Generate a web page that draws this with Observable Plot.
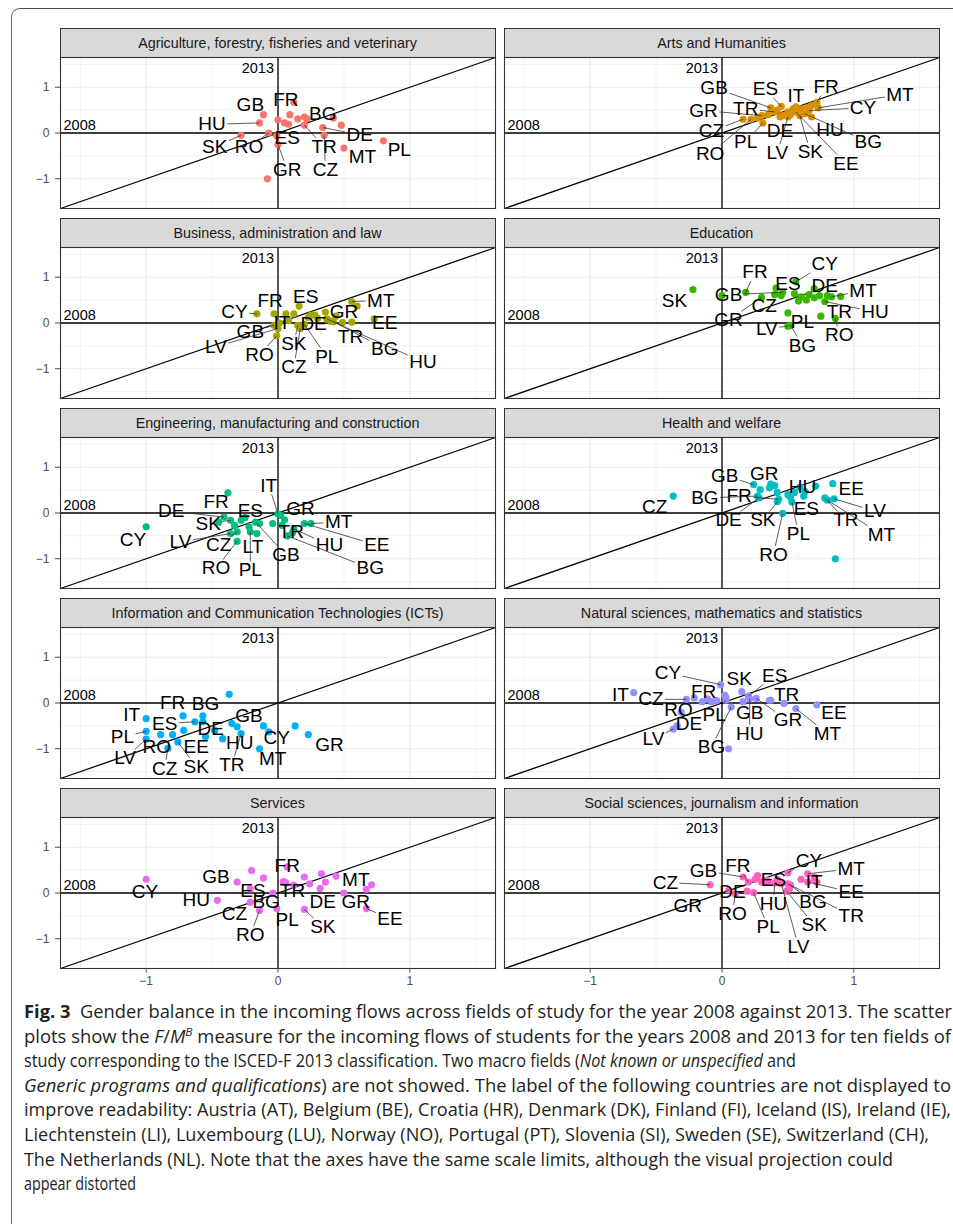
<!DOCTYPE html>
<html>
<head>
<meta charset="utf-8">
<script src="https://cdn.jsdelivr.net/npm/d3@7"></script>
<script src="https://cdn.jsdelivr.net/npm/@observablehq/plot@0.6"></script>
<style>
  html, body { margin: 0; padding: 0; background: #fff; }
  body { width: 953px; height: 1224px; overflow: hidden; position: relative; font-family: "Liberation Sans", Arial, sans-serif; }
  #frame { position: absolute; left: 11px; top: 8px; width: 1000px; height: 1300px; border-top: 1.3px solid #4a4a4a; border-left: 1.3px solid #6a6a6a; border-top-left-radius: 9px; box-sizing: border-box; }
  .strip { position: absolute; box-sizing: border-box; border: 1px solid #333; background: #d9d9d9; color: #1a1a1a; font-family: "Liberation Sans", Arial, sans-serif; font-size: 14.3px; display: flex; align-items: center; justify-content: center; white-space: nowrap; }
  .panel { position: absolute; }
  .panel svg { overflow: visible; }
  #caption { position: absolute; left: 24px; top: 999px; font-family: "Open Sans", "Liberation Sans", sans-serif; font-size: 17.5px; line-height: 24.6px; color: #231f20; }
  #caption .ln { white-space: nowrap; height: 24.6px; }
  #caption .ln span.w { display: inline-block; transform-origin: 0 50%; }
</style>
</head>
<body>
<div id="frame"></div>
<div id="root"></div>
<div id="caption">
  <div class="ln"><span class="w"><b>Fig. 3</b>&nbsp; Gender balance in the incoming flows across fields of study for the year 2008 against 2013. The scatter</span></div>
  <div class="ln"><span class="w">plots show the <i>F</i>/<i>M</i><sup style="font-size:0.65em;line-height:0"><i>B</i></sup> measure for the incoming flows of students for the years 2008 and 2013 for ten fields of</span></div>
  <div class="ln"><span class="w">study corresponding to the ISCED-F 2013 classification. Two macro fields (<i>Not known or unspecified</i> and</span></div>
  <div class="ln"><span class="w"><i>Generic programs and qualifications</i>) are not showed. The label of the following countries are not displayed to</span></div>
  <div class="ln"><span class="w">improve readability: Austria (AT), Belgium (BE), Croatia (HR), Denmark (DK), Finland (FI), Iceland (IS), Ireland (IE),</span></div>
  <div class="ln"><span class="w">Liechtenstein (LI), Luxembourg (LU), Norway (NO), Portugal (PT), Slovenia (SI), Sweden (SE), Switzerland (CH),</span></div>
  <div class="ln"><span class="w">The Netherlands (NL). Note that the axes have the same scale limits, although the visual projection could</span></div>
  <div class="ln"><span class="w">appear distorted</span></div>
</div>
<script>
// ---------------- DATA ----------------
const fields = [
  "Agriculture, forestry, fisheries and veterinary",
  "Arts and Humanities",
  "Business, administration and law",
  "Education",
  "Engineering, manufacturing and construction",
  "Health and welfare",
  "Information and Communication Technologies (ICTs)",
  "Natural sciences, mathematics and statistics",
  "Services",
  "Social sciences, journalism and information"
];
const fieldColors = ["#F8766D", "#D89000", "#A3A500", "#39B600", "#00BF7D", "#00BFC4", "#00B0F6", "#9590FF", "#E76BF3", "#FF62BC"];
const axisLimits = [-1.65, 1.65];
const majorTicks = [-1, 0, 1];
const minorTicks = [-1.5, -0.5, 0.5, 1.5];
const yearLabels = ["2008", "2013"];

// [country, F/M^B 2008, F/M^B 2013]
const agriculture = [["FR",0.12,0.67],["GB",-0.11,0.40],["HU",-0.14,0.22],["BG",0.42,0.33],["DE",0.34,0.12],["TR",0.20,0.17],["CZ",0.35,-0.05],["MT",0.50,-0.33],["PL",0.80,-0.17],["SK",-0.28,-0.05],["RO",-0.07,0.0],["GR",0.0,-0.25],["ES",-0.01,-0.06],
  ["AT",0.0,0.29],["BE",0.09,0.40],["HR",0.05,0.22],["DK",0.08,0.19],["FI",0.15,0.31],["IE",0.20,0.35],["NL",0.22,0.31],["SE",0.48,0.17],["NO",-0.08,-1.0]];
const arts = [["GB",0.37,0.55],["ES",0.45,0.58],["IT",0.56,0.57],["FR",0.72,0.67],["MT",0.73,0.55],["CY",0.66,0.49],["GR",0.30,0.38],["TR",0.40,0.46],["CZ",0.16,0.30],["RO",0.22,0.30],["PL",0.31,0.22],["DE",0.44,0.35],["LV",0.50,0.35],["SK",0.59,0.38],["HU",0.68,0.35],["BG",0.63,0.42],["EE",0.56,0.46],
  ["AT",0.46,0.38],["BE",0.50,0.46],["HR",0.54,0.53],["DK",0.60,0.53],["FI",0.35,0.40],["IE",0.42,0.50],["LU",0.65,0.56],["NL",0.52,0.40],["PT",0.68,0.60],["SI",0.27,0.33]];
const business = [["CY",-0.16,0.20],["FR",-0.03,0.20],["ES",0.16,0.37],["MT",0.56,0.47],["GR",0.36,0.24],["EE",0.73,0.09],["TR",0.49,0.01],["BG",0.42,0.03],["HU",0.37,0.09],["IT",0.01,0.0],["DE",0.23,0.12],["GB",-0.03,-0.05],["LV",0.0,-0.12],["RO",-0.01,-0.28],["SK",0.15,-0.05],["CZ",0.17,-0.12],["PL",0.20,-0.03],
  ["AT",0.06,0.20],["BE",0.25,0.17],["HR",0.28,0.17],["DK",0.40,0.04],["FI",0.60,0.37],["IE",0.56,0.02],["LU",0.12,0.20],["NL",0.30,0.10],["SE",0.44,0.15],["NO",0.08,0.05]];
const education = [["SK",-0.22,0.73],["FR",0.18,0.67],["GB",0.46,0.67],["CY",0.56,0.90],["ES",0.41,0.76],["DE",0.70,0.75],["MT",0.83,0.57],["HU",0.78,0.47],["TR",0.75,0.15],["RO",0.86,0.10],["PL",0.50,0.22],["LV",0.50,-0.07],["BG",0.52,-0.05],["CZ",0.45,0.60],["GR",0.30,0.56],
  ["IS",0.0,0.60],["AT",0.40,0.62],["BE",0.60,0.57],["HR",0.64,0.50],["DK",0.70,0.55],["FI",0.74,0.60],["IE",0.66,0.62],["LU",0.55,0.64],["NL",0.80,0.60],["PT",0.90,0.58],["SE",0.58,0.48]];
const engineering = [["CY",-1.0,-0.30],["FR",-0.38,0.44],["DE",-0.41,-0.09],["IT",0.0,-0.02],["ES",-0.28,-0.16],["GR",0.02,-0.05],["SK",-0.36,-0.16],["MT",0.25,-0.23],["EE",0.20,-0.23],["HU",0.12,-0.35],["BG",0.07,-0.50],["TR",0.11,-0.43],["GB",-0.17,-0.20],["LT",-0.16,-0.45],["PL",-0.21,-0.41],["CZ",-0.31,-0.41],["RO",-0.31,-0.62],["LV",-0.36,-0.45],
  ["AT",-0.33,-0.27],["BE",-0.14,-0.23],["HR",-0.04,-0.23],["DK",0.03,-0.27],["FI",-0.22,-0.30],["IE",-0.25,-0.10],["NL",-0.45,-0.20],["SE",0.05,-0.15]];
const health = [["CZ",-0.37,0.37],["GB",0.24,0.62],["GR",0.37,0.63],["HU",0.71,0.59],["EE",0.84,0.64],["BG",0.27,0.37],["FR",0.43,0.30],["DE",0.28,0.33],["SK",0.42,0.25],["RO",0.46,-0.01],["PL",0.53,0.24],["ES",0.62,0.37],["LV",0.85,0.31],["TR",0.78,0.33],["MT",0.80,0.28],
  ["AT",0.29,0.51],["BE",0.36,0.55],["HR",0.40,0.60],["DK",0.42,0.45],["FI",0.50,0.40],["IE",0.55,0.45],["LU",0.59,0.56],["NL",0.63,0.47],["NO",0.86,-1.0],["SE",0.52,0.35]];
const icts = [["IT",-1.0,-0.34],["PL",-1.0,-0.62],["LV",-1.0,-0.79],["FR",-0.72,-0.28],["BG",-0.57,-0.28],["ES",-0.63,-0.41],["DE",-0.48,-0.60],["GB",-0.31,-0.52],["RO",-0.89,-0.69],["CZ",-0.835,-0.99],["SK",-0.76,-0.85],["EE",-0.55,-0.74],["TR",-0.28,-0.67],["HU",-0.42,-0.78],["CY",-0.07,-0.63],["MT",-0.14,-1.0],["GR",0.23,-0.69],
  ["AT",-0.37,0.19],["BE",-0.80,-0.69],["HR",-0.715,-0.60],["DK",-0.57,-0.41],["FI",-0.11,-0.50],["IE",0.13,-0.50],["NL",-0.35,-0.45]];
const natural = [["IT",-0.67,0.23],["CY",-0.01,0.40],["SK",0.15,0.25],["ES",0.20,0.15],["CZ",-0.27,0.08],["FR",-0.11,0.09],["TR",0.37,0.06],["RO",-0.31,-0.20],["PL",0.03,0.06],["GB",0.16,0.03],["EE",0.72,-0.04],["DE",-0.34,-0.50],["LV",-0.37,-0.57],["GR",0.26,0.10],["MT",0.56,-0.12],["HU",0.21,0.09],["BG",0.07,-0.09],
  ["AT",-0.21,0.11],["BE",-0.08,0.03],["HR",0.02,0.17],["DK",-0.04,0.05],["FI",0.05,-1.0],["IE",0.36,0.06],["NL",0.47,-0.01],["SE",0.03,0.12],["NO",-0.15,0.03]];
const services = [["CY",-1.0,0.30],["GB",-0.31,0.24],["HU",-0.46,-0.16],["ES",-0.21,0.09],["BG",-0.04,0.0],["CZ",-0.21,-0.20],["RO",-0.14,-0.38],["FR",0.07,0.57],["TR",0.06,0.22],["DE",0.32,0.10],["GR",0.50,0.0],["MT",0.44,0.37],["PL",-0.01,-0.34],["SK",0.20,-0.36],["EE",0.67,-0.34],
  ["AT",-0.20,0.49],["BE",-0.11,0.33],["HR",0.12,0.17],["DK",0.20,0.35],["FI",0.24,0.20],["IE",0.33,0.42],["NL",0.36,0.24],["SE",0.67,0.08],["CH",0.71,0.18],["LU",0.04,0.25]];
const social = [["CZ",-0.09,0.18],["GB",0.16,0.35],["FR",0.20,0.24],["ES",0.35,0.24],["CY",0.50,0.44],["MT",0.65,0.42],["IT",0.70,0.30],["EE",0.65,0.24],["TR",0.50,0.20],["DE",0.19,0.04],["RO",0.10,-0.02],["GR",0.05,0.06],["HU",0.40,0.22],["BG",0.52,0.17],["PL",0.24,0.01],["SK",0.49,0.04],["LV",0.45,0.20],
  ["AT",0.27,0.38],["BE",0.30,0.24],["HR",0.34,0.28],["DK",0.42,0.30],["FI",0.51,0.08],["IE",0.70,0.35],["NL",0.72,0.24],["SE",0.60,0.30],["NO",0.25,0.30]];

// repelled label anchors, in data units: [country, x, y]
const agricultureLabels = [["GB",-0.21,0.62],["FR",0.06,0.73],["BG",0.34,0.42],["HU",-0.50,0.19],["DE",0.62,-0.04],["ES",0.07,-0.10],["TR",0.35,-0.30],["SK",-0.48,-0.30],["RO",-0.22,-0.30],["GR",0.07,-0.80],["CZ",0.36,-0.80],["MT",0.64,-0.52],["PL",0.92,-0.38]];
const artsLabels = [["GB",-0.06,0.99],["ES",0.33,0.96],["IT",0.56,0.82],["FR",0.79,1.01],["MT",1.35,0.84],["CY",1.07,0.55],["GR",-0.14,0.49],["TR",0.18,0.53],["CZ",-0.08,0.04],["RO",-0.09,-0.45],["PL",0.18,-0.20],["DE",0.44,0.04],["LV",0.42,-0.44],["SK",0.67,-0.41],["HU",0.82,0.06],["BG",1.11,-0.20],["EE",0.94,-0.67]];
const businessLabels = [["CY",-0.33,0.24],["FR",-0.06,0.49],["ES",0.21,0.57],["MT",0.78,0.49],["GR",0.50,0.24],["EE",0.81,0.01],["TR",0.55,-0.30],["BG",0.81,-0.56],["HU",1.10,-0.85],["IT",0.03,0.01],["DE",0.27,-0.01],["GB",-0.21,-0.20],["LV",-0.47,-0.52],["RO",-0.14,-0.70],["SK",0.12,-0.45],["CZ",0.12,-0.96],["PL",0.37,-0.74]];
const educationLabels = [["CY",0.78,1.29],["FR",0.25,1.11],["ES",0.50,0.86],["DE",0.78,0.82],["MT",1.07,0.71],["GB",0.05,0.62],["SK",-0.36,0.49],["CZ",0.32,0.38],["TR",0.89,0.24],["HU",1.16,0.24],["GR",0.05,0.06],["LV",0.34,-0.12],["PL",0.61,0.02],["RO",0.89,-0.27],["BG",0.61,-0.49]];
const engineeringLabels = [["IT",-0.07,0.60],["FR",-0.47,0.24],["DE",-0.81,0.04],["ES",-0.21,0.04],["GR",0.17,0.08],["SK",-0.53,-0.23],["MT",0.46,-0.20],["CY",-1.10,-0.59],["LV",-0.74,-0.63],["CZ",-0.45,-0.70],["LT",-0.19,-0.74],["TR",0.10,-0.41],["HU",0.39,-0.70],["EE",0.75,-0.70],["GB",0.06,-0.92],["BG",0.70,-1.21],["RO",-0.47,-1.21],["PL",-0.21,-1.25]];
const healthLabels = [["GB",0.02,0.82],["GR",0.32,0.86],["HU",0.61,0.57],["EE",0.98,0.53],["BG",-0.13,0.33],["FR",0.13,0.37],["CZ",-0.51,0.13],["DE",0.05,-0.16],["SK",0.31,-0.16],["ES",0.64,0.08],["LV",1.16,0.04],["TR",0.94,-0.16],["MT",1.21,-0.47],["PL",0.58,-0.45],["RO",0.39,-0.91]];
const ictsLabels = [["IT",-1.11,-0.27],["FR",-0.80,0.01],["BG",-0.55,-0.01],["GB",-0.22,-0.28],["ES",-0.86,-0.45],["DE",-0.51,-0.57],["PL",-1.18,-0.74],["LV",-1.16,-1.21],["RO",-0.92,-0.96],["EE",-0.62,-0.96],["CZ",-0.86,-1.43],["SK",-0.62,-1.39],["HU",-0.29,-0.88],["TR",-0.35,-1.36],["CY",-0.01,-0.76],["MT",-0.04,-1.23],["GR",0.39,-0.92]];
const naturalLabels = [["CY",-0.41,0.66],["SK",0.13,0.53],["ES",0.40,0.60],["IT",-0.77,0.18],["CZ",-0.54,0.08],["FR",-0.14,0.24],["TR",0.49,0.18],["RO",-0.33,-0.16],["PL",-0.06,-0.27],["GB",0.21,-0.21],["EE",0.85,-0.21],["DE",-0.25,-0.45],["GR",0.50,-0.38],["MT",0.80,-0.67],["HU",0.21,-0.67],["LV",-0.52,-0.78],["BG",-0.08,-0.96]];
const servicesLabels = [["CY",-1.01,0.02],["GB",-0.47,0.35],["HU",-0.62,-0.16],["ES",-0.19,0.04],["BG",-0.09,-0.20],["CZ",-0.33,-0.45],["RO",-0.21,-0.92],["FR",0.07,0.60],["TR",0.11,0.04],["DE",0.34,-0.20],["GR",0.59,-0.20],["MT",0.59,0.28],["PL",0.07,-0.59],["SK",0.34,-0.74],["EE",0.85,-0.56]];
const socialLabels = [["GB",-0.14,0.49],["FR",0.12,0.60],["ES",0.39,0.28],["CY",0.66,0.71],["MT",0.98,0.53],["IT",0.70,0.24],["EE",0.98,0.02],["TR",0.98,-0.49],["CZ",-0.43,0.23],["DE",0.08,0.02],["GR",-0.26,-0.28],["RO",0.08,-0.45],["HU",0.39,-0.23],["BG",0.69,-0.20],["PL",0.35,-0.74],["SK",0.70,-0.70],["LV",0.58,-1.17]];

const fieldValues = [agriculture, arts, business, education, engineering, health, icts, natural, services, social];
const fieldLabels = [agricultureLabels, artsLabels, businessLabels, educationLabels, engineeringLabels, healthLabels, ictsLabels, naturalLabels, servicesLabels, socialLabels];

// ---------------- DRAW ----------------
const FONT = "'Liberation Sans', Arial, sans-serif";
const LABEL_SIZE = 19;
const root = document.getElementById("root");
const canvas = document.createElement("canvas");
const ctx = canvas.getContext("2d");
ctx.font = `${LABEL_SIZE}px 'Liberation Sans'`;
const tickFmt = d3.format("d");

fields.forEach((field, i) => {
  const col = i % 2, row = Math.floor(i / 2);
  const plotLeft = col ? 504 : 60;
  const plotTop = 57 + 190 * row;
  const plotW = 435, plotH = 151;

  const strip = document.createElement("div");
  strip.className = "strip";
  strip.textContent = field;
  Object.assign(strip.style, { left: (plotLeft - 0.5) + "px", top: (plotTop - 29.5) + "px", width: (plotW + 1) + "px", height: "30px" });
  root.appendChild(strip);

  const pts = fieldValues[i].map(([code, x, y]) => ({ code, x, y }));
  const labs = fieldLabels[i].map(([code, lx, ly]) => {
    const p = pts.find(d => d.code === code);
    return { code, lx, ly, x: p.x, y: p.y };
  });

  const base = {
    width: col ? plotW + 1 : plotLeft + plotW,
    height: plotH + (row === 4 ? 24 : 0),
    marginLeft: col ? 0 : plotLeft,
    marginRight: col ? 1 : 0,
    marginTop: 0,
    marginBottom: row === 4 ? 24 : 0,
    x: Object.assign({ domain: axisLimits, nice: false }, row === 4 ? {} : { axis: null }),
    y: Object.assign({ domain: axisLimits, nice: false }, col === 0 ? {} : { axis: null }),
    style: { fontFamily: FONT, overflow: "visible", background: "transparent" }
  };

  // probe the scales to place repel segments
  const probe = Plot.plot({ ...base, marks: [Plot.dot(pts, { x: "x", y: "y" })] });
  const sx = probe.scale("x"), sy = probe.scale("y");
  const lin = (s) => {
    const [d0, d1] = s.domain, [r0, r1] = s.range;
    return { f: v => r0 + (v - d0) / (d1 - d0) * (r1 - r0), inv: p => d0 + (p - r0) / (r1 - r0) * (d1 - d0) };
  };
  const X = lin(sx), Y = lin(sy);
  const segs = [];
  labs.forEach(l => {
    const px = X.f(l.x), py = Y.f(l.y), cx = X.f(l.lx), cy = Y.f(l.ly);
    const hw = ctx.measureText(l.code).width / 2 + 1.5, hh = LABEL_SIZE * 0.36 + 2;
    const dx = px - cx, dy = py - cy;
    const ox = Math.max(Math.abs(dx) - hw, 0), oy = Math.max(Math.abs(dy) - hh, 0);
    if (Math.hypot(ox, oy) < 6) return;
    const t = Math.min(dx ? hw / Math.abs(dx) : Infinity, dy ? hh / Math.abs(dy) : Infinity);
    segs.push({ x1: l.x, y1: l.y, x2: X.inv(cx + dx * t), y2: Y.inv(cy + dy * t) });
  });

  const marks = [
    Plot.ruleX(minorTicks, { stroke: "#ebebeb", strokeWidth: 0.6 }),
    Plot.ruleY(minorTicks, { stroke: "#ebebeb", strokeWidth: 0.6 }),
    Plot.ruleX(majorTicks, { stroke: "#ebebeb", strokeWidth: 1.1 }),
    Plot.ruleY(majorTicks, { stroke: "#ebebeb", strokeWidth: 1.1 }),
    Plot.ruleX([0], { stroke: "#000", strokeWidth: 1.3 }),
    Plot.ruleY([0], { stroke: "#000", strokeWidth: 1.3 }),
    Plot.line(axisLimits.map(v => [v, v]), { stroke: "#000", strokeWidth: 1.3 }),
    Plot.text([yearLabels[0]], { x: axisLimits[0], y: 0, text: d => d, textAnchor: "start", dx: 3, dy: -7.5, fontSize: 14.5, fill: "#000" }),
    Plot.text([yearLabels[1]], { x: 0, y: axisLimits[1], text: d => d, textAnchor: "end", dx: -4, dy: 11, fontSize: 14.5, fill: "#000" }),
    Plot.dot(pts, { x: "x", y: "y", r: 3.6, fill: fieldColors[i], stroke: "none" }),
    Plot.link(segs, { x1: "x1", y1: "y1", x2: "x2", y2: "y2", stroke: "#333", strokeWidth: 0.8 }),
    Plot.text(labs, { x: "lx", y: "ly", text: "code", fontSize: LABEL_SIZE, fill: "#000", lineAnchor: "middle" }),
    Plot.frame({ stroke: "#333", strokeWidth: 1.1 })
  ];
  if (row === 4) marks.push(Plot.axisX({ ticks: majorTicks, tickFormat: tickFmt, tickSize: 4.5, tickPadding: 3, fontSize: 12, color: "#4d4d4d", label: null }));
  if (col === 0) marks.push(Plot.axisY({ ticks: majorTicks, tickFormat: tickFmt, tickSize: 5, tickPadding: 6, fontSize: 12, color: "#4d4d4d", label: null }));

  const chart = Plot.plot({ ...base, marks });
  const holder = document.createElement("div");
  holder.className = "panel";
  holder.style.left = (col ? plotLeft : 0) + "px";
  holder.style.top = plotTop + "px";
  holder.appendChild(chart);
  root.appendChild(holder);
});

// caption: condense each line to the reference's line length
const captionLineWidths = [928, 927, 772, 927, 927, 905, 869, 112];
document.querySelectorAll("#caption .ln span.w").forEach((el, k) => {
  const w = el.getBoundingClientRect().width;
  el.style.transform = `scaleX(${captionLineWidths[k] / w})`;
});
</script>
</body>
</html>
